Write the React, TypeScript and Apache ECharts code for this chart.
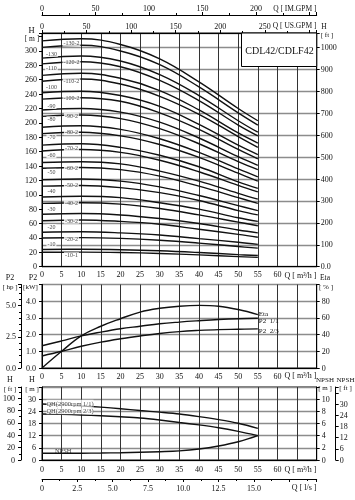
import React, { useEffect, useRef } from 'react';
import * as echarts from 'echarts';

const FONT = '"Liberation Serif", "DejaVu Serif", serif';

// ---------- top chart: QH curves (Q in m3/h, H in m) ----------
const flowQ = [0, 10, 20, 30, 40, 50, 55];
const h130 = [314, 317, 309, 289, 257, 220, 203];
const h130_2 = [305, 308, 300, 281, 250, 214, 197];
const h120 = [290, 293, 286, 267, 238, 203, 187];
const h120_2 = [282, 285, 278, 259, 231, 197, 182];
const h110 = [266, 269, 262, 245, 218, 186, 172];
const h110_2 = [258, 261, 254, 237, 212, 181, 166];
const h100 = [242, 244, 238, 223, 198, 169, 156];
const h100_2 = [233, 235, 230, 214, 191, 163, 150];
const h90 = [218, 220, 215, 201, 179, 153, 141];
const h90_2 = [209, 211, 206, 192, 171, 146, 135];
const h80 = [194, 196, 191, 178, 159, 136, 125];
const h80_2 = [185, 187, 182, 170, 152, 130, 119];
const h70 = [169, 171, 166, 155, 139, 118, 109];
const h70_2 = [161, 163, 159, 148, 132, 113, 104];
const h60 = [145, 146, 143, 133, 119, 102, 94];
const h60_2 = [137, 138, 135, 126, 112, 96, 88];
const h50 = [121, 122, 119, 111, 99, 85, 78];
const h50_2 = [112, 113, 110, 103, 92, 78, 72];
const h40 = [97, 98, 96, 89, 80, 68, 63];
const h40_2 = [88, 89, 87, 81, 72, 62, 57];
const h30 = [73, 74, 72, 67, 60, 51, 47];
const h30_2 = [64, 65, 63, 59, 52, 45, 41];
const h20 = [48, 48.5, 47, 44, 39, 34, 31];
const h20_2 = [40, 40.4, 39.4, 36.8, 32.8, 28, 25.8];
const h10 = [24, 24.2, 23.6, 22.1, 19.7, 16.8, 15.5];
const h10_1 = [20, 20.2, 19.7, 18.4, 16.4, 14, 12.9];
const headCurves = [h130, h130_2, h120, h120_2, h110, h110_2, h100, h100_2, h90, h90_2, h80, h80_2,
  h70, h70_2, h60, h60_2, h50, h50_2, h40, h40_2, h30, h30_2, h20, h20_2, h10, h10_1];

// curve labels (two columns)
const labelColAText = ['-130', '-110', '-100', '-90', '-80', '-70', '-60', '-50', '-40', '-30', '-20', '-10'];
const labelColAH = [296, 276, 249.5, 223.5, 205, 180, 155, 132, 105, 80, 55, 31.5];
const labelColAQ = 2.4;
const labelColBText = ['-130-2', '-120-2', '-110-2', '-100-2', '-90-2', '-80-2', '-70-2', '-60-2', '-50-2', '-40-2', '-30-2', '-20-2', '-10-1'];
const labelColBH = [310.5, 284, 258, 234, 210, 187, 164.7, 137, 114, 88, 64, 38, 16];
const labelColBQ = 7.5;

// ---------- middle chart: P2 and Eta ----------
const flowQm = [0, 5, 10, 15, 20, 25, 30, 35, 40, 45, 50, 55];
const etaPct = [0, 20, 38.5, 50, 59, 67, 71.5, 74, 75, 74, 70, 64];
const p2Full = [1.33, 1.62, 1.92, 2.15, 2.35, 2.5, 2.65, 2.75, 2.83, 2.9, 2.95, 2.98];
const p2TwoThirds = [0.72, 1.0, 1.3, 1.55, 1.75, 1.92, 2.07, 2.18, 2.25, 2.3, 2.32, 2.34];

// ---------- bottom chart: single stage QH and NPSH ----------
const qhFull = [27.6, 27.2, 26.7, 26.1, 25.3, 24.4, 23.6, 22.7, 21.4, 19.9, 18.1, 15.6];
const qhTwoThirds = [22.7, 22.5, 22.2, 21.8, 21.3, 20.7, 19.7, 18.5, 17.3, 15.9, 14.1, 12.0];
const npshM = [1.1, 1.1, 1.12, 1.15, 1.2, 1.27, 1.36, 1.5, 1.8, 2.3, 3.0, 4.0];

const GRID_L = 42;
const GRID_W = 274.7;
const INK = '#111111';

const lbl = (extra: any = {}) => ({ fontFamily: FONT, fontSize: 8, color: INK, ...extra });

function valAxis(o: any) {
  return {
    type: 'value',
    axisLine: { show: true, onZero: false, lineStyle: { color: '#000', width: 1 } },
    axisTick: { show: true, length: 3, lineStyle: { color: '#000' } },
    minorTick: { show: false, lineStyle: { color: '#000' } },
    splitLine: { show: false },
    ...o,
  };
}

function txt(x: number, y: number, text: string, size = 8, align = 'center') {
  return {
    type: 'text', x, y, z: 100,
    style: { text, fontSize: size, fontFamily: FONT, fill: INK, align, verticalAlign: 'middle', textAlign: align, textVerticalAlign: 'middle' },
  };
}

export default function App() {
  const ref = useRef<HTMLDivElement>(null);
  useEffect(() => {
    if (!ref.current) return;
    const chart = echarts.init(ref.current, undefined, { renderer: 'svg' });
    const vSplit = { show: true, lineStyle: { color: '#333', width: 1 } };
    const hSplit = { show: true, lineStyle: { color: '#8c8c8c', width: 1.3 } };
    const minor = (n: number) => ({ show: true, splitNumber: n, length: 2, lineStyle: { color: '#000' } });
    const series: any[] = [];
    headCurves.forEach((h) => {
      series.push({
        type: 'line', xAxisIndex: 0, yAxisIndex: 0, silent: true, symbol: 'none', smooth: 0.4,
        data: flowQ.map((q, k) => [q, h[k]]),
        lineStyle: { color: '#111', width: 1.4 }, z: 3,
      });
    });
    const curveLabelData = [
      ...labelColAText.map((t, i) => ({ value: [labelColAQ, labelColAH[i]], name: t })),
      ...labelColBText.map((t, i) => ({ value: [labelColBQ, labelColBH[i]], name: t })),
    ];
    series.push({
      type: 'scatter', xAxisIndex: 0, yAxisIndex: 0, silent: true, symbol: 'rect', symbolSize: 1,
      itemStyle: { color: 'rgba(0,0,0,0)' }, z: 6,
      data: curveLabelData,
      label: { show: true, position: 'inside', formatter: '{b}', fontFamily: FONT, fontSize: 6, color: INK, backgroundColor: '#fff', padding: [0, 1] },
    });
    // middle
    series.push({
      type: 'line', xAxisIndex: 3, yAxisIndex: 4, symbol: 'none', smooth: 0.4, silent: true,
      data: flowQm.map((q, k) => [q, etaPct[k]]), lineStyle: { color: '#111', width: 1.4 },
      endLabel: { show: true, formatter: 'Eta', fontFamily: FONT, fontSize: 7, color: INK, distance: 1, offset: [0, -1] },
    });
    series.push({
      type: 'line', xAxisIndex: 3, yAxisIndex: 2, symbol: 'none', smooth: 0.4, silent: true,
      data: flowQm.map((q, k) => [q, p2Full[k]]), lineStyle: { color: '#111', width: 1.4 },
      endLabel: { show: true, formatter: 'P2  1/1', fontFamily: FONT, fontSize: 7, color: INK, distance: 1, offset: [0, 3] },
    });
    series.push({
      type: 'line', xAxisIndex: 3, yAxisIndex: 2, symbol: 'none', smooth: 0.4, silent: true,
      data: flowQm.map((q, k) => [q, p2TwoThirds[k]]), lineStyle: { color: '#111', width: 1.4 },
      endLabel: { show: true, formatter: 'P2  2/3', fontFamily: FONT, fontSize: 7, color: INK, distance: 1, offset: [0, 2] },
    });
    // bottom
    series.push({
      type: 'line', xAxisIndex: 4, yAxisIndex: 5, symbol: 'none', smooth: 0.3, silent: true,
      data: flowQm.map((q, k) => [q, qhFull[k]]), lineStyle: { color: '#111', width: 1.4 },
    });
    series.push({
      type: 'line', xAxisIndex: 4, yAxisIndex: 5, symbol: 'none', smooth: 0.3, silent: true,
      data: flowQm.map((q, k) => [q, qhTwoThirds[k]]), lineStyle: { color: '#111', width: 1.4 },
    });
    series.push({
      type: 'line', xAxisIndex: 4, yAxisIndex: 7, symbol: 'none', smooth: 0.4, silent: true,
      data: flowQm.map((q, k) => [q, npshM[k]]), lineStyle: { color: '#111', width: 1.4 },
    });
    series.push({
      type: 'scatter', xAxisIndex: 4, yAxisIndex: 5, silent: true, symbol: 'rect', symbolSize: 1,
      itemStyle: { color: 'rgba(0,0,0,0)' }, z: 6,
      data: [
        { value: [1.0, 28.0], name: 'QH(2900rpm 1/1)' },
        { value: [1.0, 24.3], name: 'QH(2900rpm 2/3)' },
      ],
      label: { show: true, position: 'right', distance: 0, formatter: '{b}', fontFamily: FONT, fontSize: 6.5, lineHeight: 7, color: INK, backgroundColor: '#fff', padding: 0 },
    });
    series.push({
      type: 'scatter', xAxisIndex: 4, yAxisIndex: 7, silent: true, symbol: 'rect', symbolSize: 1,
      itemStyle: { color: 'rgba(0,0,0,0)' }, z: 6,
      data: [{ value: [5.4, 1.6], name: 'NPSH' }],
      label: { show: true, position: 'inside', formatter: '{b}', fontFamily: FONT, fontSize: 6.5, color: INK },
    });

    const gridBase = { left: GRID_L, width: GRID_W, show: true, borderColor: '#000', borderWidth: 1, containLabel: false };

    chart.setOption({
      animation: false,
      backgroundColor: '#fff',
      color: ['#111111'],
      textStyle: { color: INK, fontFamily: FONT },
      grid: [
        { ...gridBase, top: 33, height: 233.7 },
        { ...gridBase, top: 284.5, height: 83.5 },
        { ...gridBase, top: 387, height: 73 },
      ],
      xAxis: [
        valAxis({ gridIndex: 0, position: 'bottom', min: 0, max: 70, interval: 5, axisTick: { show: false },
          axisLabel: lbl({ margin: 4, formatter: (v: number) => (v <= 60 ? String(v) : '') }), splitLine: vSplit }),
        valAxis({ gridIndex: 0, position: 'top', min: 0, max: 308.2, interval: 50, minorTick: minor(2),
          axisLabel: lbl({ margin: 3, formatter: (v: number) => (v <= 250 ? String(v) : '') }) }),
        valAxis({ gridIndex: 0, position: 'top', offset: 18, min: 0, max: 256.6, interval: 50, minorTick: minor(2),
          axisLabel: lbl({ margin: 3, formatter: (v: number) => (v <= 200 ? String(v) : '') }) }),
        valAxis({ gridIndex: 1, position: 'bottom', min: 0, max: 70, interval: 5, axisTick: { show: false },
          axisLabel: lbl({ margin: 4, formatter: (v: number) => (v <= 60 ? String(v) : '') }), splitLine: vSplit }),
        valAxis({ gridIndex: 2, position: 'bottom', min: 0, max: 70, interval: 5, axisTick: { show: false },
          axisLabel: lbl({ margin: 5, formatter: (v: number) => (v <= 60 ? String(v) : '') }), splitLine: vSplit }),
        valAxis({ gridIndex: 2, position: 'bottom', offset: 19, min: 0, max: 19.444, interval: 2.5, minorTick: minor(2),
          axisLabel: lbl({ margin: 5, formatter: (v: number) => (v === 0 ? '0' : v <= 15 ? v.toFixed(1) : '') }) }),
      ],
      yAxis: [
        valAxis({ gridIndex: 0, position: 'left', min: 0, max: 325, interval: 20,
          axisLabel: lbl({ margin: 5, formatter: (v: number) => (v <= 300 ? String(v) : '') }) }),
        valAxis({ gridIndex: 0, position: 'right', min: 0, max: 1066.3, interval: 100,
          axisLabel: lbl({ margin: 4, formatter: (v: number) => (v === 0 ? '0.0' : v <= 1000 ? String(v) : '') }), splitLine: hSplit }),
        valAxis({ gridIndex: 1, position: 'left', min: 0, max: 5, interval: 1,
          axisLabel: lbl({ margin: 6, formatter: (v: number) => (v <= 4 ? v.toFixed(1) : '') }), splitLine: hSplit }),
        valAxis({ gridIndex: 1, position: 'left', offset: 21, min: 0, max: 6.705, interval: 2.5, minorTick: minor(5),
          axisLabel: lbl({ margin: 5, formatter: (v: number) => (v <= 5 ? v.toFixed(1) : '') }) }),
        valAxis({ gridIndex: 1, position: 'right', min: 0, max: 100, interval: 20,
          axisLabel: lbl({ margin: 5, formatter: (v: number) => (v <= 80 ? String(v) : '') }) }),
        valAxis({ gridIndex: 2, position: 'left', min: 0, max: 36, interval: 6,
          axisLabel: lbl({ margin: 6, formatter: (v: number) => (v <= 30 ? String(v) : '') }), splitLine: hSplit }),
        valAxis({ gridIndex: 2, position: 'left', offset: 21, min: 0, max: 118.11, interval: 20, minorTick: minor(2),
          axisLabel: lbl({ margin: 6, formatter: (v: number) => (v <= 100 ? String(v) : '') }) }),
        valAxis({ gridIndex: 2, position: 'right', min: 0, max: 12, interval: 2,
          axisLabel: lbl({ margin: 5, formatter: (v: number) => (v <= 10 ? String(v) : '') }) }),
        valAxis({ gridIndex: 2, position: 'right', offset: 19, min: 0, max: 39.37, interval: 6,
          axisLabel: lbl({ margin: 4, formatter: (v: number) => (v <= 30 ? String(v) : '') }) }),
      ],
      graphic: [
        { type: 'rect', z: 99, shape: { x: 241.5, y: 33, width: 75.2, height: 33.5 }, style: { fill: '#fff', stroke: '#000', lineWidth: 1 } },
        txt(279.5, 50, 'CDL42/CDLF42', 10),
        txt(316.5, 8, 'Q [ IM.GPM ]', 7.5, 'right'),
        txt(316.5, 25.5, 'Q [ US.GPM ]', 7.5, 'right'),
        txt(31.5, 29.5, 'H', 8.5),
        txt(32, 38.5, '[ m ]', 7.5),
        txt(324, 26, 'H', 7.5),
        txt(327, 35, '[ ft ]', 7),
        txt(316.5, 275, 'Q [ m³/h ]', 8, 'right'),
        txt(325, 277.5, 'Eta', 7.5),
        txt(326, 286.5, '[ % ]', 7),
        txt(10, 277, 'P2', 8),
        txt(33, 277, 'P2', 8),
        txt(10, 286.5, '[ hp ]', 7),
        txt(30.5, 286.5, '[kW]', 7),
        txt(316.5, 375.5, 'Q [ m³/h ]', 8, 'right'),
        txt(10, 379.5, 'H', 8),
        txt(32, 379.5, 'H', 8),
        txt(10, 388.5, '[ ft ]', 7),
        txt(32, 388.5, '[ m ]', 7),
        txt(325, 379.5, 'NPSH', 7),
        txt(345.5, 379.5, 'NPSH', 7),
        txt(325, 388, '[ m ]', 7),
        txt(345.5, 388, '[ ft ]', 7),
        txt(316.5, 469, 'Q [ m³/h ]', 8, 'right'),
        txt(316.5, 487, 'Q [ l/s ]', 8, 'right'),
      ],
      series,
    });
    return () => chart.dispose();
  }, []);
  return (
    <div
      ref={ref}
      style={{ position: 'absolute', left: 0, top: 0, width: 355, height: 500, background: '#fff', opacity: 0.999, willChange: 'transform', WebkitFontSmoothing: 'antialiased' } as any}
    />
  );
}
